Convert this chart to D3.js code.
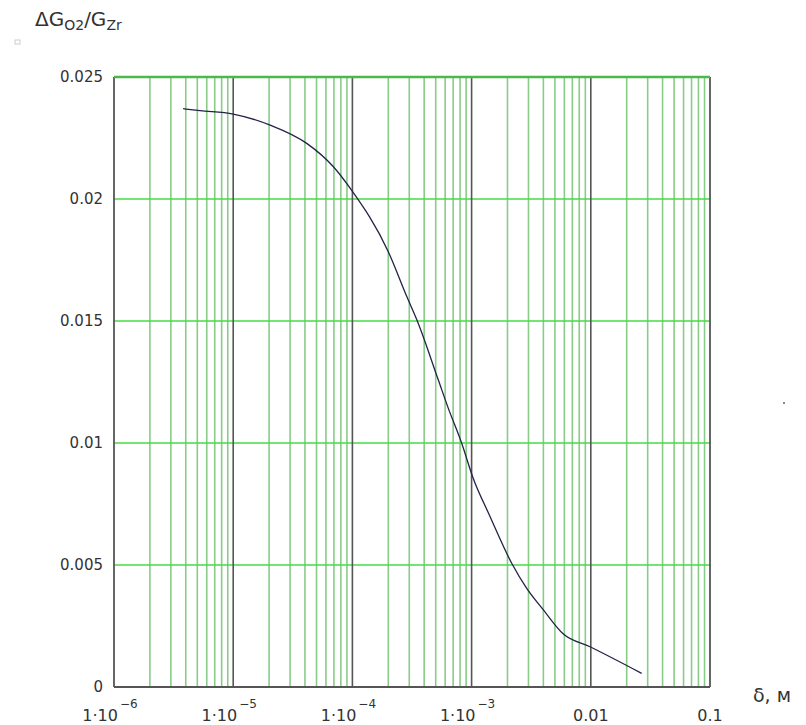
<!DOCTYPE html>
<html>
<head>
<meta charset="utf-8">
<script src="https://cdn.jsdelivr.net/npm/d3@7"></script>
<style>
	body { margin: 0; background: #fff; }
	svg { display: block; }
</style>
</head>
<body>
<div id="chart"></div>
<script>
// thickness delta, m
const deltaValues = [
	3.8e-6, 5.27e-6, 1.0e-5, 2.04e-5, 4.14e-5, 6.9e-5, 9.7e-5, 2.0e-4,
	2.86e-4, 3.57e-4, 5.26e-4, 6.38e-4, 8.26e-4, 1.02e-3, 1.43e-3,
	2.17e-3, 2.9e-3, 4.0e-3, 5.89e-3, 9.85e-3, 0.0267,
];
// dG_O2 / G_Zr
const ratioValues = [
	0.0237, 0.02362, 0.02348, 0.02303, 0.02228, 0.02133, 0.0204, 0.01784,
	0.016, 0.0149, 0.01258, 0.01142, 0.00999, 0.00862, 0.00698,
	0.00507, 0.00404, 0.00316, 0.00217, 0.00165, 0.00056,
];
const yTicks = [0, 0.005, 0.01, 0.015, 0.02, 0.025];
const yTickLabels = ["0", "0.005", "0.01", "0.015", "0.02", "0.025"];
const xDecades = [1e-6, 1e-5, 1e-4, 1e-3, 0.01, 0.1];
const xTickBase = ["1·10", "1·10", "1·10", "1·10", "0.01", "0.1"];
const xTickExp = ["−6", "−5", "−4", "−3", "", ""];

const colors = {
	axis: "#555555",
	decade: "#555555",
	minorGrid: "#88cc88",
	hGrid: "#44dd44",
	top: "#4cb84c",
	curve: "#23234a",
	text: "#333333",
};
const margin = { top: 77, right: 96, bottom: 38, left: 114 };
const width = 806 - margin.left - margin.right;
const height = 725 - margin.top - margin.bottom;

const svg = d3
	.select("#chart")
	.append("svg")
	.attr("width", 806)
	.attr("height", 725)
	.style("font-family", "'DejaVu Sans', sans-serif");

const g = svg.append("g").attr("transform", `translate(${margin.left}, ${margin.top})`);

const x = d3.scaleLog().domain([1e-6, 0.1]).range([0, width]);
const y = d3.scaleLinear().domain([0, 0.025]).range([height, 0]);

// minor vertical grid (2..9 in every decade)
const minorTicks = [];
xDecades.slice(0, -1).forEach((d) => {
	for (let k = 2; k <= 9; k++) minorTicks.push(d * k);
});
g.append("g")
	.selectAll("line")
	.data(minorTicks)
	.enter()
	.append("line")
	.attr("x1", (d) => x(d))
	.attr("x2", (d) => x(d))
	.attr("y1", 0)
	.attr("y2", height)
	.attr("stroke", colors.minorGrid)
	.attr("stroke-width", 1.6);

// horizontal grid
g.append("g")
	.selectAll("line")
	.data(yTicks.slice(1, -1))
	.enter()
	.append("line")
	.attr("x1", 0)
	.attr("x2", width)
	.attr("y1", (d) => y(d))
	.attr("y2", (d) => y(d))
	.attr("stroke", colors.hGrid)
	.attr("stroke-width", 1.6);

// decade lines
g.append("g")
	.selectAll("line")
	.data(xDecades.slice(1, -1))
	.enter()
	.append("line")
	.attr("x1", (d) => x(d))
	.attr("x2", (d) => x(d))
	.attr("y1", 0)
	.attr("y2", height)
	.attr("stroke", colors.decade)
	.attr("stroke-width", 1.6);

// frame
g.append("line").attr("x1", 0).attr("x2", 0).attr("y1", 0).attr("y2", height)
	.attr("stroke", colors.axis).attr("stroke-width", 1.8);
g.append("line").attr("x1", width).attr("x2", width).attr("y1", 0).attr("y2", height)
	.attr("stroke", colors.axis).attr("stroke-width", 1.8);
g.append("line").attr("x1", 0).attr("x2", width).attr("y1", height).attr("y2", height)
	.attr("stroke", colors.axis).attr("stroke-width", 1.8);
g.append("line").attr("x1", 0).attr("x2", width).attr("y1", 0).attr("y2", 0)
	.attr("stroke", colors.top).attr("stroke-width", 2.4);

// curve
const points = deltaValues.map((d, i) => [d, ratioValues[i]]);
g.append("path")
	.datum(points)
	.attr("fill", "none")
	.attr("stroke", colors.curve)
	.attr("stroke-width", 1.3)
	.attr("d", d3.line().x((d) => x(d[0])).y((d) => y(d[1])).curve(d3.curveMonotoneX));

// y tick labels
g.append("g")
	.selectAll("text")
	.data(yTicks)
	.enter()
	.append("text")
	.attr("x", -11)
	.attr("y", (d) => y(d))
	.attr("dy", "0.35em")
	.attr("text-anchor", "end")
	.attr("fill", colors.text)
	.style("font-size", "15px")
	.text((d, i) => yTickLabels[i]);

// x tick labels
const xLabels = g.append("g")
	.selectAll("text")
	.data(xDecades)
	.enter()
	.append("text")
	.attr("x", (d, i) => x(d) - (xTickExp[i] ? 4 : 0))
	.attr("y", height + 34)
	.attr("text-anchor", "middle")
	.attr("fill", colors.text)
	.style("font-size", "16px");
xLabels.append("tspan").text((d, i) => xTickBase[i]);
xLabels.append("tspan")
	.attr("dy", -13)
	.attr("dx", 2)
	.style("font-size", "12px")
	.text((d, i) => xTickExp[i]);

// axis titles
const yTitle = svg.append("text")
	.attr("x", 35)
	.attr("y", 26)
	.attr("fill", colors.text)
	.style("font-size", "20px");
yTitle.append("tspan").text("ΔG");
yTitle.append("tspan").attr("dy", 4).style("font-size", "14px").text("O2");
yTitle.append("tspan").attr("dy", -4).text("/G");
yTitle.append("tspan").attr("dy", 4).style("font-size", "14px").text("Zr");

svg.append("text")
	.attr("x", 753)
	.attr("y", 702)
	.attr("fill", colors.text)
	.style("font-size", "19px")
	.text("δ, м");

// stray marks from the original image
svg.append("rect").attr("x", 15).attr("y", 40).attr("width", 5).attr("height", 4)
	.attr("fill", "none").attr("stroke", "#cccccc").attr("stroke-width", 1);
svg.append("rect").attr("x", 783).attr("y", 402).attr("width", 2).attr("height", 2)
	.attr("fill", "#888888");
</script>
</body>
</html>
